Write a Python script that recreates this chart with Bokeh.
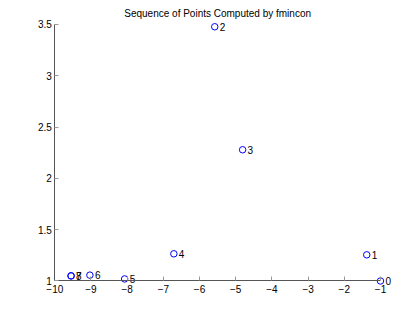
from bokeh.plotting import figure
from bokeh.models import Range1d, FixedTicker, ColumnDataSource, Label
from bokeh.core.properties import value
from bokeh.embed import file_html
from bokeh.resources import INLINE

# Data
iter_labels = ["0", "1", "2", "3", "4", "5", "6", "7", "8"]
x_vals = [-1.0, -1.38, -5.58, -4.81, -6.71, -8.07, -9.03, -9.55, -9.55]
y_vals = [1.0, 1.255, 3.478, 2.279, 1.265, 1.02, 1.057, 1.05, 1.05]
x_ticks = [-10, -9, -8, -7, -6, -5, -4, -3, -2, -1]
x_tick_labels = ["−10", "−9", "−8", "−7", "−6", "−5", "−4", "−3", "−2", "−1"]
y_ticks = [1, 1.5, 2, 2.5, 3, 3.5]
y_tick_labels = ["1", "1.5", "2", "2.5", "3", "3.5"]
title_text = "Sequence of Points Computed by fmincon"

FONT = "Liberation Sans"

p = figure(width=419, height=315, output_backend="svg", toolbar_location=None,
           x_range=Range1d(-10.671, 0.0777), y_range=Range1d(0.8294, 3.7339),
           min_border_left=30, min_border_right=0, min_border_top=0,
           min_border_bottom=17)
p.outline_line_color = None
p.xgrid.visible = False
p.ygrid.visible = False
p.background_fill_color = "white"
p.border_fill_color = "white"

src = ColumnDataSource(dict(x=x_vals, y=y_vals, t=iter_labels))
p.scatter("x", "y", source=src, marker="circle", size=6.5, fill_color=None,
          line_color="#0000ff", line_width=1)
p.text("x", "y", text="t", source=src, x_offset=5, text_baseline="middle",
       text_align="left", text_font=value(FONT), text_font_size="10px",
       text_color="black")

for ax in (p.xaxis[0], p.yaxis[0]):
    ax.axis_line_color = "#555555"
    ax.axis_line_width = 1
    ax.major_tick_in = 4
    ax.major_tick_out = 0
    ax.major_tick_line_color = "#999999"
    ax.minor_tick_line_color = None
    ax.major_label_text_font = FONT
    ax.major_label_text_font_size = "10px"
    ax.major_label_text_color = "black"

p.xaxis[0].ticker = FixedTicker(ticks=x_ticks)
p.xaxis[0].major_label_overrides = {t: l for t, l in zip(x_ticks, x_tick_labels)}
p.xaxis[0].bounds = (-10, -1)
p.xaxis[0].fixed_location = 1
p.xaxis[0].major_label_standoff = 4

p.yaxis[0].ticker = FixedTicker(ticks=y_ticks)
p.yaxis[0].major_label_overrides = {t: l for t, l in zip(y_ticks, y_tick_labels)}
p.yaxis[0].bounds = (1, 3.5)
p.yaxis[0].fixed_location = -10
p.yaxis[0].major_label_standoff = 3

p.add_layout(Label(x=-5.5, y=3.607, text=title_text, text_align="center",
                   text_baseline="middle", text_font=FONT, text_font_size="10px",
                   text_color="black"))

open("out.html", "w").write(file_html(p, INLINE))
